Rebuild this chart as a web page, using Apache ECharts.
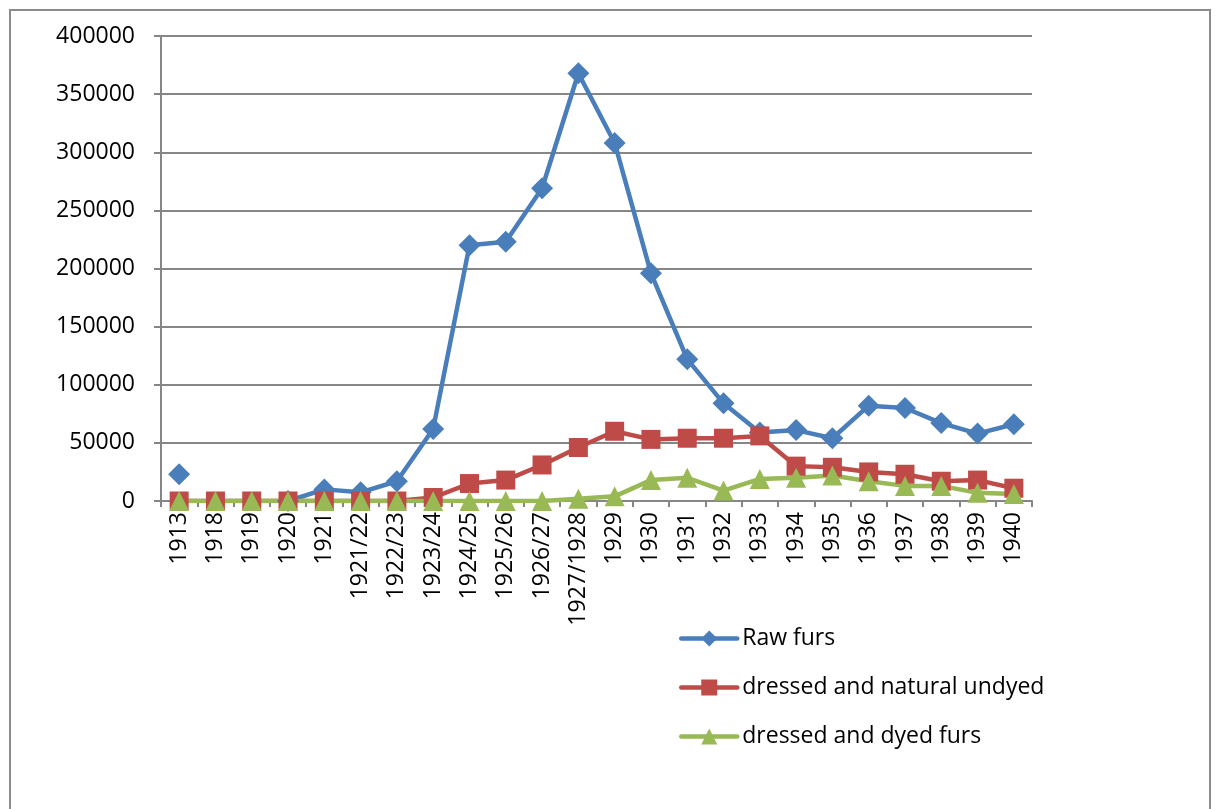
<!DOCTYPE html>
<html>
<head>
<meta charset="utf-8">
<script src="https://cdn.jsdelivr.net/npm/echarts@6/dist/echarts.min.js"></script>
<style>
html, body { margin: 0; padding: 0; background: #fff; }
#frame {
    position: absolute; left: 9px; top: 9px; width: 1202px; height: 810px;
    border: 2px solid #8c8c8c; box-sizing: border-box;
}
#chart { position: absolute; left: 0; top: 0; width: 1219px; height: 809px; }
</style>
</head>
<body>
<div id="frame"></div>
<div id="chart"></div>
<script>
// categories and values
var years = ["1913", "1918", "1919", "1920", "1921", "1921/22", "1922/23", "1923/24",
    "1924/25", "1925/26", "1926/27", "1927/1928", "1929", "1930", "1931", "1932",
    "1933", "1934", "1935", "1936", "1937", "1938", "1939", "1940"];
var rawFurs = [23000, null, null, 0, 10000, 7500, 17000, 62000,
    220000, 223000, 269000, 368000, 308000, 196000, 122000, 84000,
    59000, 61000, 54000, 82000, 80000, 67000, 58000, 66000];
var naturalUndyed = [0, 0, 0, 0, 0, 0, 0, 3000,
    15000, 18000, 31000, 46000, 60000, 53000, 54000, 54000,
    56000, 30000, 29000, 25000, 23000, 17000, 18000, 11000];
var dyedFurs = [0, 0, 0, 0, 0, 0, 0, 0,
    0, 0, 0, 2000, 4000, 18000, 20000, 9000,
    19000, 20000, 22000, 17000, 13000, 13000, 7000, 6000];
var yTicks = [0, 50000, 100000, 150000, 200000, 250000, 300000, 350000, 400000];

var font = "'Open Sans', 'Noto Sans', sans-serif";
var chart = echarts.init(document.getElementById("chart"));

function lineSeries(name, data, color, symbol, size) {
    return {
        name: name,
        type: "line",
        data: data,
        symbol: symbol,
        symbolSize: size,
        connectNulls: false,
        lineStyle: { color: color, width: 4.5, cap: "round", join: "round" },
        itemStyle: { color: color },
        z: 3
    };
}

chart.setOption({
    animation: false,
    grid: { left: 161, top: 36, right: 187, bottom: 308 },
    legend: {
        orient: "vertical",
        left: 674,
        top: 622,
        itemWidth: 56,
        itemHeight: 20,
        itemGap: 26,
        lineStyle: { width: 4.5, cap: "round" },
        textStyle: { fontFamily: font, fontSize: 23, color: "#000" },
        data: ["Raw furs", "dressed and natural undyed", "dressed and dyed furs"]
    },
    xAxis: {
        type: "category",
        data: years,
        boundaryGap: true,
        axisLine: { lineStyle: { color: "#868686", width: 2 } },
        axisTick: { show: true, length: 6, lineStyle: { color: "#868686", width: 2 } },
        axisLabel: {
            rotate: 90,
            interval: 0,
            margin: 11,
            fontFamily: font,
            fontSize: 23,
            color: "#000"
        }
    },
    yAxis: {
        type: "value",
        min: yTicks[0],
        max: yTicks[yTicks.length - 1],
        interval: yTicks[1] - yTicks[0],
        axisLine: { show: true, lineStyle: { color: "#868686", width: 2 } },
        axisTick: { show: true, length: 7, lineStyle: { color: "#868686", width: 2 } },
        splitLine: { lineStyle: { color: "#868686", width: 2 } },
        axisLabel: {
            margin: 26,
            fontFamily: font,
            fontSize: 23,
            color: "#000",
            formatter: function (v) { return String(v); }
        }
    },
    series: [
        lineSeries("Raw furs", rawFurs, "#4a7ebb", "diamond", 22),
        lineSeries("dressed and natural undyed", naturalUndyed, "#be4b48", "rect", 19),
        lineSeries("dressed and dyed furs", dyedFurs, "#98b954", "triangle", 20)
    ]
});
</script>
</body>
</html>
